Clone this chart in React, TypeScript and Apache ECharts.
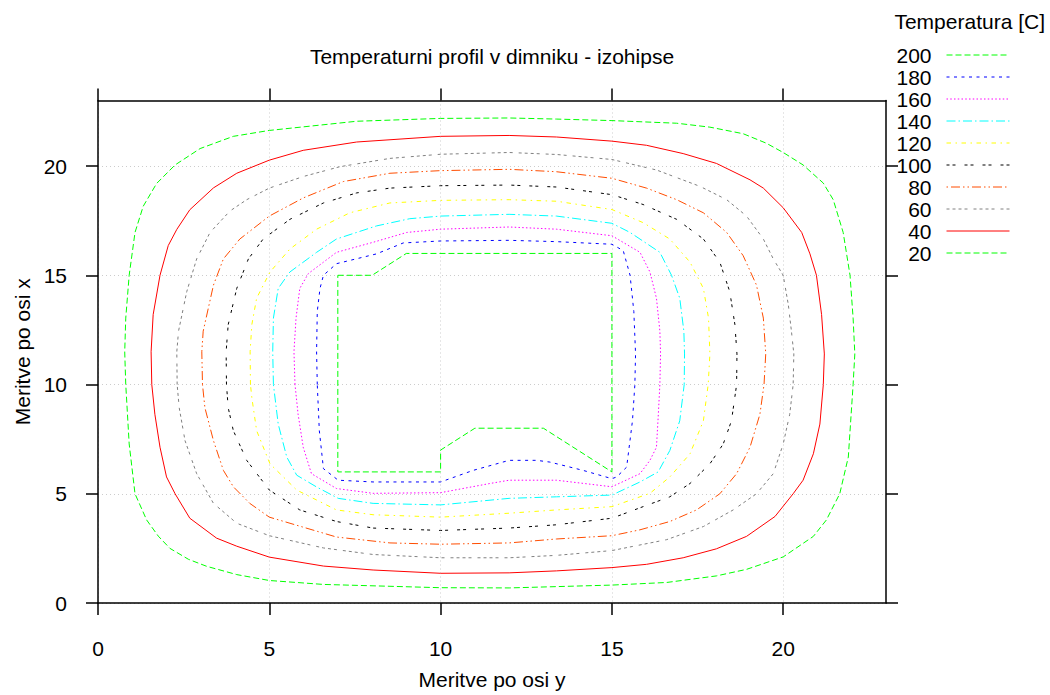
import React, { useEffect, useRef } from "react";
import * as echarts from "echarts";

type P = [number, number];

const levels = ["200", "180", "160", "140", "120", "100", "80", "60", "40", "20"];
const xTicks = [0, 5, 10, 15, 20];
const yTicks = [0, 5, 10, 15, 20];

const c200: P[] = [[7, 15], [8, 15], [9, 16], [15, 16], [15, 6], [13, 8], [11, 8], [10, 7], [10, 6], [7, 6], [7, 15]];

const c180: P[] = [[6.4, 10], [6.38, 11.5], [6.4, 13.34], [6.48, 14.4], [6.58, 15.0], [6.96, 15.53], [8.13, 15.98], [8.91, 16.48], [10, 16.57], [12, 16.6], [13.38, 16.54], [15, 16.42], [15.33, 16.13], [15.53, 15.0], [15.64, 13.34], [15.69, 11.4], [15.67, 10], [15.6, 8.34], [15.43, 6.22], [15.14, 5.77], [15, 5.69], [14.16, 6.07], [13.19, 6.45], [12.8, 6.53], [12, 6.53], [10.95, 6.07], [10, 5.54], [8.03, 5.54], [7.01, 5.62], [6.58, 6.15], [6.46, 7.89], [6.4, 10]];

const c160: P[] = [[5.75, 10], [5.72, 11.5], [5.78, 13.04], [5.89, 14.4], [6.14, 15.08], [6.58, 15.6], [6.96, 16.05], [8.03, 16.51], [9.01, 16.96], [10, 17.11], [12, 17.21], [13.38, 17.11], [15, 16.81], [15.82, 16.05], [16.11, 15.15], [16.3, 13.95], [16.4, 12.44], [16.42, 11.4], [16.4, 10], [16.35, 8.5], [16.3, 7.13], [16.11, 6.53], [15.82, 5.92], [15, 5.32], [13.38, 5.62], [12, 5.62], [11.44, 5.47], [10, 5.05], [8.03, 5.02], [6.96, 5.24], [6.23, 5.92], [5.99, 7.13], [5.84, 8.64], [5.75, 10]];

const c140: P[] = [[5.12, 10], [5.1, 11.5], [5.12, 13.04], [5.26, 14.4], [5.6, 15.15], [6.38, 16.05], [6.96, 16.66], [8.13, 17.26], [9.1, 17.59], [10, 17.71], [12, 17.79], [13.38, 17.71], [15, 17.38], [15.53, 16.96], [16.4, 16.05], [16.74, 15.0], [16.98, 13.95], [17.1, 12.44], [17.12, 11.4], [17.11, 10], [16.98, 8.34], [16.69, 6.98], [16.35, 6.0], [15.82, 5.54], [15, 4.94], [13.38, 4.86], [12, 4.79], [10, 4.49], [8.03, 4.56], [7.01, 4.79], [6.37, 5.32], [5.8, 5.85], [5.51, 6.68], [5.26, 8.19], [5.12, 10]];

const c120: P[] = [[4.45, 10], [4.44, 11.5], [4.49, 12.74], [4.63, 13.95], [5.02, 15.15], [5.6, 16.2], [6.38, 17.11], [7.35, 17.86], [8.52, 18.31], [10, 18.43], [12, 18.46], [13.38, 18.39], [15, 18.01], [15.91, 17.41], [16.69, 16.66], [17.28, 15.6], [17.67, 14.4], [17.82, 13.04], [17.86, 11.4], [17.81, 10], [17.67, 8.34], [17.28, 6.83], [16.69, 5.77], [16.11, 5.02], [15, 4.41], [13.38, 4.26], [12, 4.11], [10, 3.93], [8.03, 4.04], [6.96, 4.26], [5.8, 5.17], [5.02, 6.37], [4.63, 7.89], [4.49, 9.4], [4.45, 10]];

const c100: P[] = [[3.75, 10], [3.74, 11.5], [3.8, 12.74], [4.05, 14.4], [4.39, 15.75], [4.82, 16.66], [5.6, 17.56], [6.58, 18.31], [7.55, 18.77], [8.52, 18.99], [10, 19.1], [12, 19.13], [13.38, 19.04], [15, 18.69], [15.91, 18.24], [16.89, 17.56], [17.67, 16.66], [18.15, 15.6], [18.44, 14.25], [18.59, 12.74], [18.65, 11.4], [18.64, 10], [18.49, 8.34], [18.25, 7.28], [17.86, 6.37], [17.28, 5.47], [16.69, 4.86], [15.91, 4.41], [15, 3.88], [13.38, 3.58], [12, 3.43], [10, 3.32], [8.03, 3.43], [6.96, 3.73], [5.89, 4.26], [5, 5.17], [4.34, 6.53], [3.95, 7.89], [3.8, 8.94], [3.75, 10]];

const c80: P[] = [[3.05, 10], [3.03, 11.5], [3.07, 12.44], [3.37, 14.55], [3.66, 15.75], [4.14, 16.66], [5, 17.71], [5.99, 18.54], [7.16, 19.29], [8.52, 19.67], [10, 19.79], [12, 19.85], [13.38, 19.74], [15, 19.44], [16.01, 18.99], [16.89, 18.46], [17.67, 17.86], [18.35, 16.96], [18.83, 15.9], [19.22, 14.55], [19.42, 13.04], [19.49, 11.4], [19.44, 10], [19.32, 8.64], [19.03, 7.13], [18.64, 5.92], [18.15, 5.0], [17.47, 4.26], [16.69, 3.73], [15.82, 3.35], [15, 3.08], [13.38, 2.93], [12, 2.75], [10, 2.69], [8.52, 2.75], [6.96, 3.02], [5, 3.93], [4.43, 4.56], [3.95, 5.32], [3.66, 6.07], [3.37, 7.43], [3.12, 8.94], [3.05, 10]];

const c60: P[] = [[2.31, 10], [2.3, 11.5], [2.35, 12.44], [2.59, 14.25], [2.88, 15.75], [3.27, 16.96], [3.85, 17.94], [4.34, 18.46], [5, 18.99], [5.99, 19.52], [7.06, 19.97], [8.52, 20.35], [10, 20.54], [12, 20.62], [13.38, 20.53], [15, 20.3], [16.3, 19.82], [17.57, 19.07], [18.35, 18.46], [18.93, 17.71], [19.42, 16.66], [19.71, 15.75], [20, 15.0], [20.15, 13.64], [20.24, 12.44], [20.31, 11.4], [20.29, 10], [20.19, 8.64], [20, 7.28], [19.71, 5.92], [19.22, 5.0], [18.54, 4.26], [17.67, 3.5], [16.6, 2.9], [15, 2.4], [13.38, 2.18], [12, 2.07], [10, 2.07], [8.03, 2.22], [6.58, 2.52], [5, 3.08], [4.05, 3.65], [3.37, 4.56], [2.88, 5.92], [2.54, 7.43], [2.37, 8.94], [2.31, 10]];

const c40: P[] = [[1.57, 10], [1.55, 11.5], [1.61, 13.2], [1.81, 15.0], [2.05, 16.36], [2.3, 17.1], [2.68, 18.0], [3.37, 19.0], [4.05, 19.67], [5.0, 20.27], [5.99, 20.72], [7.55, 21.1], [10, 21.36], [12, 21.4], [13.38, 21.33], [15, 21.14], [16.01, 20.95], [17.08, 20.57], [18.05, 20.12], [19.03, 19.37], [19.42, 18.99], [20, 18.09], [20.54, 16.96], [20.78, 15.98], [20.97, 15.0], [21.12, 13.2], [21.2, 11.4], [21.17, 10], [21.07, 8.19], [20.88, 6.83], [20.58, 5.62], [20.29, 5.0], [19.76, 3.96], [18.93, 3.05], [18.05, 2.48], [17.08, 2.07], [16.01, 1.77], [15, 1.62], [13.38, 1.47], [12, 1.38], [10, 1.36], [8.03, 1.51], [6.58, 1.69], [5, 2.1], [4.05, 2.6], [3.46, 2.97], [2.68, 3.88], [2.25, 5.0], [2.0, 5.77], [1.81, 7.13], [1.66, 8.64], [1.57, 10]];

const c20: P[] = [[0.81, 10.0], [0.78, 11.5], [0.81, 13.04], [0.91, 15.0], [1.08, 16.96], [1.32, 18.16], [1.71, 19.2], [2.25, 20.05], [2.98, 20.8], [3.95, 21.36], [5.0, 21.63], [7.55, 22.05], [10, 22.18], [12, 22.2], [13.38, 22.15], [15, 22.08], [16.89, 21.96], [17.86, 21.78], [18.83, 21.48], [19.5, 21.05], [20, 20.62], [20.58, 20.05], [21.17, 19.22], [21.46, 18.46], [21.75, 16.96], [21.95, 15.0], [22.04, 13.04], [22.09, 11.4], [22.04, 10.0], [21.9, 6.68], [21.65, 5.0], [21.26, 3.8], [20.88, 3.05], [20.0, 2.11], [18.93, 1.54], [18.05, 1.24], [16.6, 0.94], [15, 0.82], [12, 0.69], [10, 0.7], [6.58, 0.85], [5.0, 1.03], [4.05, 1.3], [3.17, 1.68], [2.64, 2.0], [2.1, 2.5], [1.76, 3.06], [1.42, 3.8], [1.08, 5.0], [0.91, 7.28], [0.81, 10.0]];

const contours: P[][] = [c200, c180, c160, c140, c120, c100, c80, c60, c40, c20];

const colors = ["#00ff00", "#0000ff", "#ff00ff", "#00ffff", "#ffff00", "#000000", "#ff4d00", "#808080", "#ff0000", "#00ff00"];
const dashes: any[] = [
  [6, 3],
  [3, 4.5],
  [1.5, 2.25],
  [9, 3, 1.5, 3],
  [4.5, 4.5, 1.5, 4.5],
  [3, 3, 3, 9],
  [1.5, 3, 9, 3, 1.5, 3],
  [3, 3, 3, 3, 3, 3, 3, 6],
  "solid",
  [6, 3],
];

const FONT = "Liberation Sans, Arial, Helvetica, sans-serif";
const FS = 21;

export default function App() {
  const ref = useRef<HTMLDivElement>(null);
  useEffect(() => {
    if (!ref.current) return;
    const chart = echarts.init(ref.current, undefined, { renderer: "svg" });
    const axisLine = { show: true, onZero: false, lineStyle: { color: "#000", width: 1.5 } };
    const tick = (vals: number[]) => ({ show: true, inside: false, length: 12, customValues: vals, lineStyle: { color: "#000", width: 1.5 } });
    const split = { show: true, lineStyle: { color: "#cccccc", type: [1, 3], width: 1 } };
    const option: any = {
      animation: false,
      backgroundColor: "#ffffff",
      title: [
        {
          text: "Temperaturni profil v dimniku - izohipse",
          left: 492,
          top: 46,
          textAlign: "center",
          padding: 0,
          textStyle: { fontSize: FS, fontWeight: "normal", color: "#000", fontFamily: FONT },
        },
        {
          text: "Temperatura [C]",
          right: 5,
          top: 11,
          padding: 0,
          textStyle: { fontSize: FS, fontWeight: "normal", color: "#000", fontFamily: FONT },
        },
      ],
      legend: {
        orient: "vertical",
        right: 40,
        top: 44,
        padding: 0,
        itemGap: 0,
        itemWidth: 63,
        itemHeight: 14,
        align: "right",
        selectedMode: false,
        data: levels,
        itemStyle: { opacity: 0, borderWidth: 0 },
        lineStyle: { width: 1 },
        textStyle: { fontSize: FS, color: "#000", fontFamily: FONT, lineHeight: 22, padding: [0, 10, 0, 0] },
      },
      grid: { left: 98, right: 164, top: 100.5, bottom: 87.5, containLabel: false },
      xAxis: [
        {
          type: "value",
          min: 0,
          max: 23,
          interval: 5,
          position: "bottom",
          axisLine,
          axisTick: tick(xTicks),
          axisLabel: { show: true, customValues: xTicks, fontSize: FS, color: "#000", fontFamily: FONT, margin: 35 },
          splitLine: split,
          name: "Meritve po osi y",
          nameLocation: "middle",
          nameGap: 66,
          nameTextStyle: { fontSize: FS, color: "#000", fontFamily: FONT },
        },
        {
          type: "value",
          min: 0,
          max: 23,
          interval: 5,
          position: "top",
          axisLine,
          axisTick: tick(xTicks),
          axisLabel: { show: false },
          splitLine: { show: false },
        },
      ],
      yAxis: [
        {
          type: "value",
          min: 0,
          max: 23,
          interval: 5,
          position: "left",
          axisLine,
          axisTick: tick(yTicks),
          axisLabel: { show: true, customValues: yTicks, fontSize: FS, color: "#000", fontFamily: FONT, margin: 31 },
          splitLine: split,
          name: "Meritve po osi x",
          nameLocation: "middle",
          nameGap: 65,
          nameTextStyle: { fontSize: FS, color: "#000", fontFamily: FONT },
        },
        {
          type: "value",
          min: 0,
          max: 23,
          interval: 5,
          position: "right",
          axisLine,
          axisTick: tick(yTicks),
          axisLabel: { show: false },
          splitLine: { show: false },
        },
      ],
      series: levels.map((name, i) => ({
        name,
        type: "line",
        xAxisIndex: 0,
        yAxisIndex: 0,
        data: contours[i],
        symbol: "none",
        showSymbol: false,
        silent: true,
        itemStyle: { color: colors[i] },
        lineStyle: { color: colors[i], width: 1, type: dashes[i] },
        z: 3,
      })),
    };
    chart.setOption(option);
    return () => chart.dispose();
  }, []);
  return <div ref={ref} style={{ position: "fixed", left: 0, top: 0, width: 1050, height: 695 }} />;
}
